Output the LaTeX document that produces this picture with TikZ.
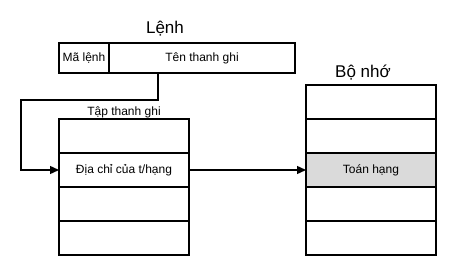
\documentclass[tikz,border=0pt]{standalone}
\usepackage{fontspec}
\setmainfont{Liberation Sans}
\usetikzlibrary{arrows.meta, positioning, calc}
\definecolor{ink}{HTML}{000000}
\definecolor{cellgray}{HTML}{DADADA}
\tikzset{
  cell/.style={
    rectangle, draw=ink, fill=white, line width=1.4pt,
    minimum width=130pt, minimum height=34pt,
    inner sep=0pt, outer sep=0pt,
    align=center, font=\fontsize{12}{14}\selectfont
  },
  graycell/.style={cell, fill=cellgray},
  title/.style={font=\fontsize{17}{20}\selectfont, inner sep=0pt, anchor=base},
  caption/.style={font=\fontsize{12}{14}\selectfont, inner sep=0pt},
  arrow/.style={-{Triangle[length=9pt,width=8pt]}, line width=1.4pt, draw=ink},
}

\begin{document}
\begin{tikzpicture}[x=1pt, y=-1pt]
  \useasboundingbox (0,0) rectangle (459,275);

  % instruction
  \node[cell, minimum width=50pt, minimum height=30pt] (ma) at (84,58) {Mã lệnh};
  \node[cell, minimum width=186pt, minimum height=30pt, right=0pt of ma] (ten) {Tên thanh ghi};
  \node[title] (lenh) at (165,34) {Lệnh};

  % register file
  \node[cell] (r1) at (124,136) {};
  \node[cell, below=0pt of r1] (r2) {Địa chỉ của t/hạng};
  \node[cell, below=0pt of r2] (r3) {};
  \node[cell, below=0pt of r3] (r4) {};
  \node[caption, above=0.5pt of r1] (tap) {Tập thanh ghi};

  % memory
  \node[cell] (m1) at (371,102) {};
  \node[cell, below=0pt of m1] (m2) {};
  \node[graycell, below=0pt of m2] (m3) {Toán hạng};
  \node[cell, below=0pt of m3] (m4) {};
  \node[cell, below=0pt of m4] (m5) {};
  \node[title] (bonho) at (363,78) {Bộ nhớ};

  \coordinate (bend) at (21,100);
  \draw[arrow] ($(ten.south west)!0.263!(ten.south east)$) |- (bend) |- (r2.west);
  \draw[arrow] (r2.east) -- (m3.west);
\end{tikzpicture}
\end{document}
